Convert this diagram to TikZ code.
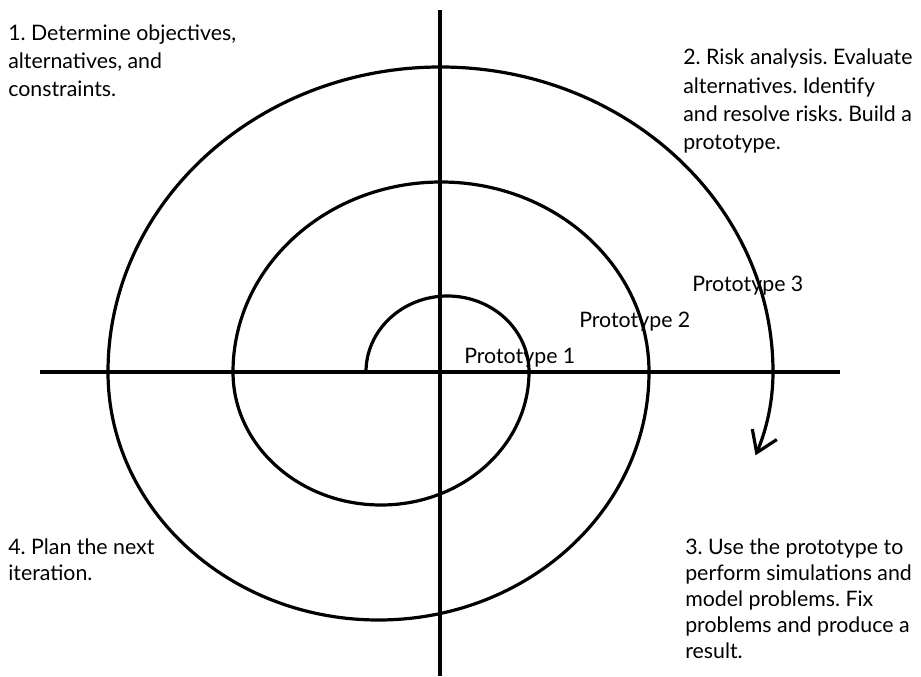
\documentclass[tikz,border=0pt]{standalone}
\usepackage{fontspec}
\setmainfont{Lato}
\usetikzlibrary{positioning,arrows.meta}
\frenchspacing
\tikzset{
  axisline/.style={line width=3pt, line cap=butt},
  spiralline/.style={line width=2.4pt},
  spiralarrow/.style={spiralline, -{Straight Barb[length=15pt, width=20pt, line width=2.4pt]}},
  phasetext/.style={anchor=base west, inner sep=0pt, align=left},
  lowtext/.style={phasetext, font=\fontsize{16}{19.5}\selectfont},
  protolabel/.style={anchor=base west, inner sep=0pt}
}

\begin{document}
\begin{tikzpicture}[x=0.75pt, y=0.75pt, every node/.style={font=\fontsize{16}{21.3}\selectfont}]
  \useasboundingbox (0,0) rectangle (921,676);
  % axes
  \coordinate (west) at (40,304);
  \coordinate (east) at (840,304);
  \coordinate (north) at (440,666);
  \coordinate (south) at (440,0);
  \draw[axisline] (west) -- (east);
  \draw[axisline] (north) -- (south);
  % spiral
  \coordinate (start) at (366,304);
  \draw[spiralarrow] (start)
    arc[start angle=180, end angle=0, x radius=81.5, y radius=76]
    arc[start angle=0, end angle=-180, x radius=148, y radius=133]
    arc[start angle=180, end angle=0, x radius=208, y radius=190]
    arc[start angle=0, end angle=-180, x radius=270.5, y radius=248]
    arc[start angle=180, end angle=0, x radius=332.5, y radius=305]
    arc[start angle=0, end angle=-17, x radius=400, y radius=285];
  % quadrant texts (base = last line)
  \node[phasetext] (objectives) at (8,579) {1. Determine objectives,\\alternatives, and\\constraints.};
  \node[phasetext] (risk) at (683,526) {2. Risk analysis. Evaluate\\alternatives. Identify\\and resolve risks. Build a\\prototype.};
  \node[lowtext] (simulate) at (685,18) {3. Use the prototype to\\perform simulations and\\model problems. Fix\\problems and produce a\\result.};
  \node[lowtext] (plan) at (8,96) {4. Plan the next\\iteration.};
  % prototypes
  \node[protolabel] (proto1) at (464,313) {Prototype 1};
  \node[protolabel] (proto2) at (579,349) {Prototype 2};
  \node[protolabel] (proto3) at (692,385) {Prototype 3};
\end{tikzpicture}
\end{document}
